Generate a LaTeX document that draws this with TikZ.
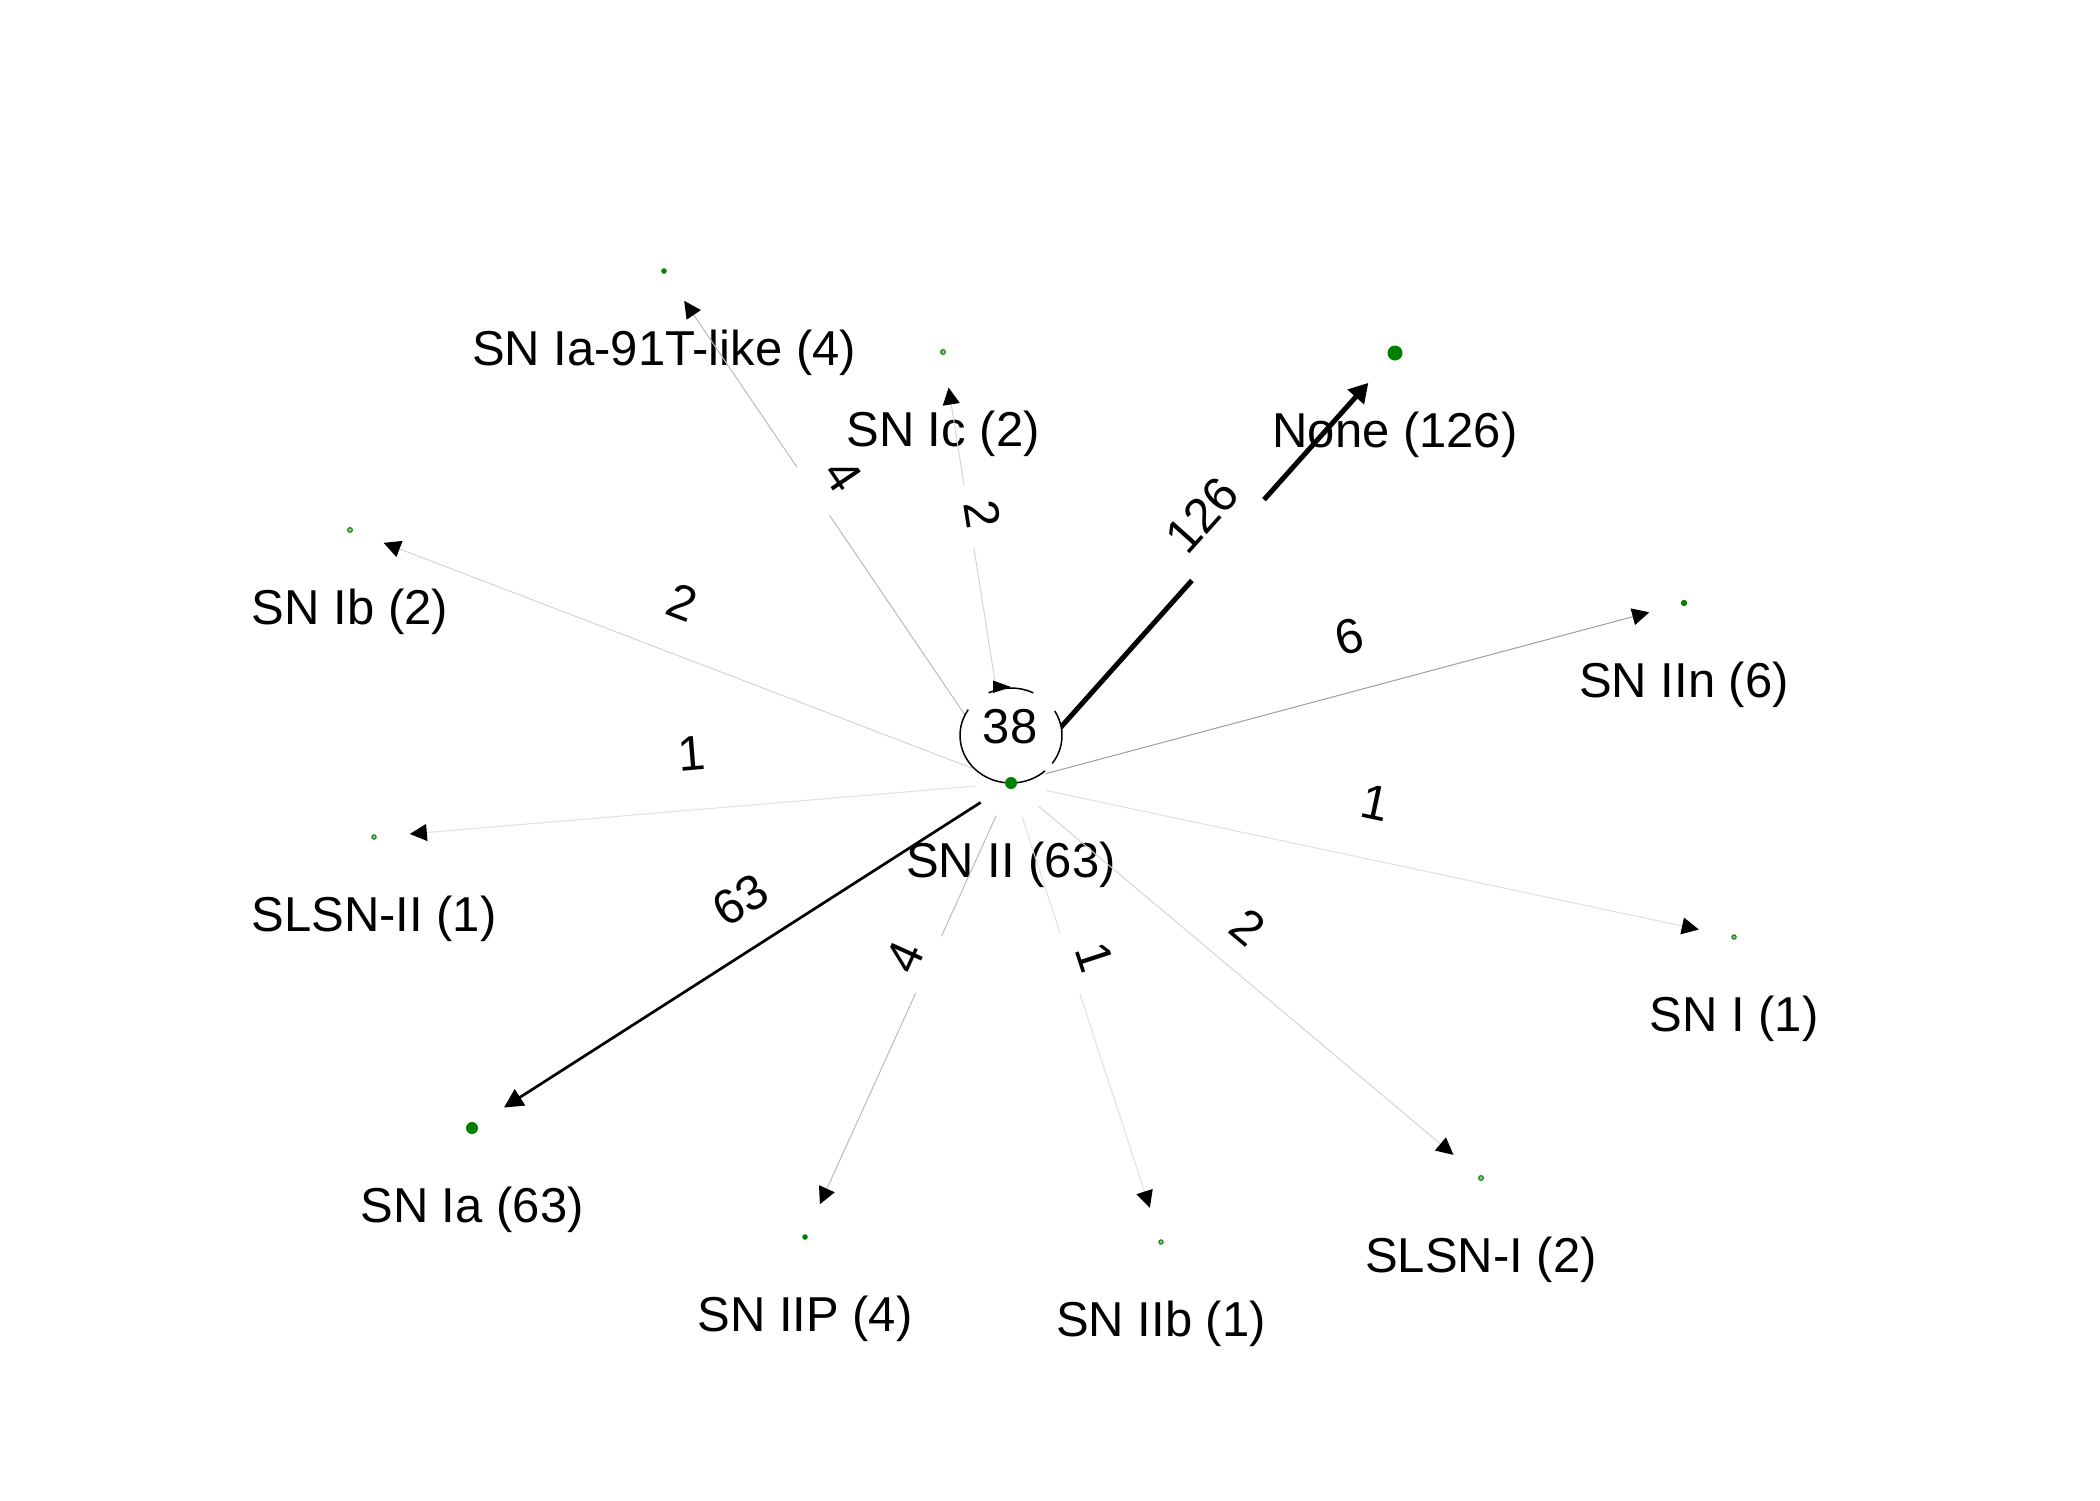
\documentclass[tikz,border=0pt]{standalone}
\usepackage{fontspec}
\setmainfont{Liberation Sans}
\usetikzlibrary{arrows.meta,calc}
\definecolor{nodegreen}{RGB}{0,128,0}
\tikzset{
  every node/.style={font=\fontsize{24.5}{29}\selectfont, inner sep=0pt},
  lbl/.style={anchor=center},
  elbl/.style={anchor=center},
  edgebase/.style={line width=0.5pt, shorten <=18pt, shorten >=18pt,
    -{Triangle[length=8.5pt,width=8.5pt,color=black]}},
  wsix/.style={edgebase, draw=black!38},
  wfour/.style={edgebase, draw=black!27},
  wtwo/.style={edgebase, draw=black!17},
  wone/.style={edgebase, draw=black!12},
  wbig/.style={line width=2.5pt, draw=black, shorten <=18pt, shorten >=20pt,
    -{Triangle[length=9.5pt,width=10.5pt]}},
  wmid/.style={line width=1.35pt, draw=black, shorten <=18pt, shorten >=19pt,
    -{Triangle[length=9.5pt,width=9.5pt]}},
  gap/.style={fill=white, sloped, inner sep=0pt, minimum height=4pt},
  loopline/.style={line width=0.75pt, draw=black},
  bigdot/.style={fill=nodegreen},
  ringdot/.style={fill=nodegreen!45, draw=nodegreen, line width=0.5pt}
}
\begin{document}
\begin{tikzpicture}[x=0.5pt,y=-0.5pt]
\useasboundingbox (0,0) rectangle (2100,1500);

% node positions
\coordinate (sII) at (1011,783);
\coordinate (none) at (1395,353);
\coordinate (t91) at (664,271);
\coordinate (ic) at (943,352);
\coordinate (ib) at (350,530);
\coordinate (iin) at (1684,603);
\coordinate (slsn2) at (374,837);
\coordinate (sni) at (1734,937);
\coordinate (ia) at (472,1128);
\coordinate (iip) at (805,1237);
\coordinate (iib) at (1161,1242);
\coordinate (slsn1) at (1481,1178);
\coordinate (lc) at (1011,735.5);

% node labels
\node[lbl] (lsII) at ($(sII)+(0,82)$) {SN II (63)};
\node[lbl] (lnone) at ($(none)+(0,82)$) {None (126)};
\node[lbl] (lt91) at ($(t91)+(0,82)$) {SN Ia-91T-like (4)};
\node[lbl] (lic) at ($(ic)+(0,82)$) {SN Ic (2)};
\node[lbl] (lib) at ($(ib)+(0,82)$) {SN Ib (2)};
\node[lbl] (liin) at ($(iin)+(0,82)$) {SN IIn (6)};
\node[lbl] (lslsn2) at ($(slsn2)+(0,82)$) {SLSN-II (1)};
\node[lbl] (lsni) at ($(sni)+(0,82)$) {SN I (1)};
\node[lbl] (lia) at ($(ia)+(0,82)$) {SN Ia (63)};
\node[lbl] (liip) at ($(iip)+(0,82)$) {SN IIP (4)};
\node[lbl] (liib) at ($(iib)+(0,82)$) {SN IIb (1)};
\node[lbl] (lslsn1) at ($(slsn1)+(0,82)$) {SLSN-I (2)};

% edges
\draw[wtwo] (sII) -- (ib);
\draw[wone] (sII) -- (slsn2);
\draw[wsix] (sII) -- (iin);
\draw[wone] (sII) -- (sni);
\draw[wtwo] (sII) -- (slsn1);
\draw[wfour] (sII) -- node[gap,pos=0.570,minimum width=29pt]{} (t91);
\draw[wtwo] (sII) -- node[gap,pos=0.619,minimum width=31.5pt]{} (ic);
\draw[wfour] (sII) -- node[gap,pos=0.40,minimum width=31pt]{} (iip);
\draw[wone] (sII) -- node[gap,pos=0.394,minimum width=31pt]{} (iib);
\draw[wmid] (sII) -- (ia);
\draw[wbig] (sII) -- node[gap,pos=0.565,minimum width=54pt,minimum height=8pt]{} (none);

% self loop
\fill[white] (lc) ellipse [x radius=51, y radius=47.5];
\draw[loopline] ($(lc)+(-147:51 and 47.5)$) arc[start angle=-147, end angle=-312, x radius=51, y radius=47.5];
\draw[loopline] ($(lc)+(36:51 and 47.5)$) arc[start angle=36, end angle=-31, x radius=51, y radius=47.5];
\draw[loopline] ($(lc)+(-64:51 and 47.5)$) arc[start angle=-64, end angle=-116, x radius=51, y radius=47.5];
\fill ($(lc)+(0,-48.5)$) -- ($(lc)+(-18,-55)$) -- ($(lc)+(-18,-42.5)$) -- cycle;
\node[elbl] (w38) at (1010,727) {38};

% edge labels
\node[elbl, rotate=48.2] (w126) at (1202,515) {126};
\node[elbl, rotate=-55.9] (w4a) at (843,475) {4};
\node[elbl, rotate=-81] (w2c) at (983,514) {2};
\node[elbl, rotate=-20.9] (w2b) at (682,602) {2};
\node[elbl, rotate=4.8] (w1s) at (692,754) {1};
\node[elbl, rotate=15] (w6) at (1349,637) {6};
\node[elbl, rotate=-12] (w1i) at (1375,803) {1};
\node[elbl, rotate=32.5] (w63) at (740,900) {63};
\node[elbl, rotate=65.6] (w4p) at (905,957) {4};
\node[elbl, rotate=-71.9] (w1b) at (1095,957) {1};
\node[elbl, rotate=-40] (w2s) at (1248,927) {2};

% node dots
\fill[bigdot] (none) circle (7.5);
\fill[bigdot] (sII) circle (6);
\fill[bigdot] (ia) circle (6);
\fill[bigdot] (iin) circle (3.2);
\fill[bigdot] (t91) circle (2.8);
\fill[bigdot] (iip) circle (2.8);
\filldraw[ringdot] (ic) circle (2.4);
\filldraw[ringdot] (ib) circle (2.4);
\filldraw[ringdot] (slsn1) circle (2.4);
\filldraw[ringdot] (slsn2) circle (2.2);
\filldraw[ringdot] (sni) circle (2.2);
\filldraw[ringdot] (iib) circle (2.2);
\end{tikzpicture}
\end{document}
